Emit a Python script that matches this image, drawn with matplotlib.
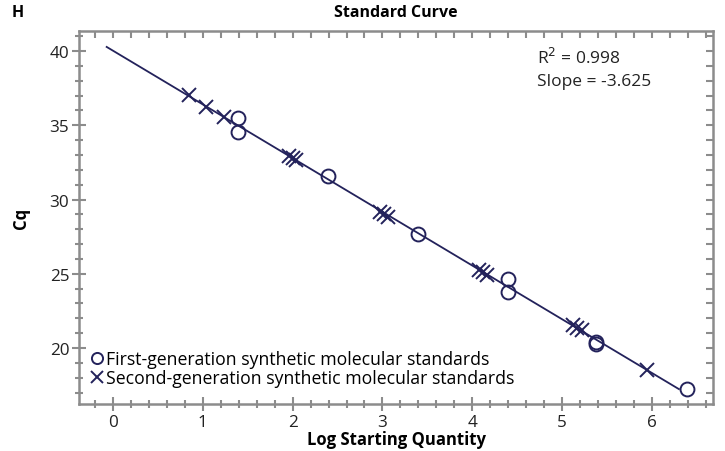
import numpy as np
import matplotlib
matplotlib.use("Agg")
import matplotlib.pyplot as plt
from matplotlib.ticker import MultipleLocator

plt.rcParams['font.family'] = ['Open Sans', 'DejaVu Sans']

# First-generation synthetic molecular standards (circles)
gen1_x = [1.39, 1.39, 2.39, 3.40, 4.40, 4.40, 5.38, 5.38, 6.39]
gen1_cq = [35.47, 34.52, 31.56, 27.68, 24.64, 23.78, 20.39, 20.28, 17.26]

# Second-generation synthetic molecular standards (crosses)
gen2_x = [0.85, 1.04, 1.24, 1.96, 2.00, 2.04, 2.97, 3.02, 3.06,
          4.07, 4.12, 4.16, 5.12, 5.17, 5.22, 5.95]
gen2_cq = [37.04, 36.26, 35.58, 32.95, 32.80, 32.65, 29.17, 29.00, 28.83,
           25.25, 25.10, 24.92, 21.52, 21.35, 21.18, 18.50]

fit_x_range = [-0.07, 6.30]
r2_text = "R$^2$ = 0.998"
slope_text = "Slope = -3.625"

navy = '#23225b'
gray = '#8c8c8c'

fig = plt.figure(figsize=(7.25, 4.52), dpi=100)
ax = fig.add_axes([79/725, 1-405/452, (713-79)/725, (405-32)/452])

all_x = np.array(gen1_x + gen2_x)
all_y = np.array(gen1_cq + gen2_cq)
slope, intercept = np.polyfit(all_x, all_y, 1)
lx = np.array(fit_x_range)
ax.plot(lx, intercept + slope*lx, color=navy, lw=1.3, zorder=2)

ax.plot(gen1_x, gen1_cq, linestyle='none', marker='o', ms=10, mfc='none',
        mec=navy, mew=1.4, label='First-generation synthetic molecular standards', zorder=3)
ax.plot(gen2_x, gen2_cq, linestyle='none', marker='x', ms=10,
        mec=navy, mew=1.4, label='Second-generation synthetic molecular standards', zorder=3)

ax.set_xlim(-0.378, 6.68)
ax.set_ylim(16.23, 41.35)
ax.xaxis.set_major_locator(MultipleLocator(1))
ax.xaxis.set_minor_locator(MultipleLocator(0.2))
ax.yaxis.set_major_locator(MultipleLocator(5))
ax.yaxis.set_minor_locator(MultipleLocator(1))

for s in ax.spines.values():
    s.set_color(gray)
    s.set_linewidth(1.8)

ax.tick_params(which='major', direction='inout', length=10, width=1.5, color=gray,
               labelsize=12.3, labelcolor='#222222', pad=2)
ax.tick_params(which='minor', direction='inout', length=5.5, width=1.5, color=gray)

secx = ax.secondary_xaxis('top')
secx.xaxis.set_major_locator(MultipleLocator(1))
secx.xaxis.set_minor_locator(MultipleLocator(0.2))
secx.tick_params(which='both', direction='in', length=5, width=1.5, color=gray, labeltop=False)
secx.spines['top'].set_visible(False)

secy = ax.secondary_yaxis('right')
secy.yaxis.set_major_locator(MultipleLocator(5))
secy.yaxis.set_minor_locator(MultipleLocator(1))
secy.tick_params(which='both', direction='in', length=5, width=1.5, color=gray, labelright=False)
secy.spines['right'].set_visible(False)

ax.set_xlabel('Log Starting Quantity', fontsize=12, fontweight='bold', labelpad=0)
ax.set_ylabel('Cq', fontsize=12, fontweight='bold', labelpad=14)

ax.text(0.722, 0.958, r2_text, transform=ax.transAxes, fontsize=12.5, va='top', ha='left', color='#222222')
ax.text(0.722, 0.888, slope_text, transform=ax.transAxes, fontsize=12.5, va='top', ha='left', color='#222222')

leg = ax.legend(loc='lower left', bbox_to_anchor=(0.02, 0.046), frameon=False, fontsize=12.7,
                handlelength=0.6, handletextpad=0.2, borderaxespad=0.0, labelspacing=0.05,
                borderpad=0.0)
for h in leg.legend_handles:
    h.set_markersize(8)

fig.text(396/725, 1-13/452, 'Standard Curve', ha='center', va='center',
         fontsize=11.5, fontweight='bold')
fig.text(17.5/725, 1-13/452, 'H', ha='center', va='center', fontsize=11.5, fontweight='bold')

fig.savefig('out.png', dpi=100)
